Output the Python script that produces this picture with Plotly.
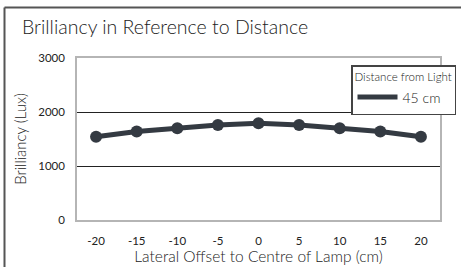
import plotly.graph_objects as go

offsets = [-20, -15, -10, -5, 0, 5, 10, 15, 20]
brilliancy_45cm = [1540, 1640, 1700, 1760, 1790, 1760, 1700, 1640, 1540]
y_ticks = [0, 1000, 2000, 3000]
series_name = "45 cm"

FONT = "Lato"
DARK = "#343a42"
TXT = "#222"

fig = go.Figure()
fig.add_trace(go.Scatter(
    x=offsets, y=brilliancy_45cm, name=series_name, mode="lines",
    line=dict(color=DARK, width=5),
))
fig.add_trace(go.Scatter(
    x=offsets, y=brilliancy_45cm, name=series_name, mode="markers",
    marker=dict(color=DARK, size=12), showlegend=False,
))

fig.update_layout(
    width=461, height=267,
    margin=dict(l=77, r=21, t=58, b=47, autoexpand=False),
    paper_bgcolor="white", plot_bgcolor="white",
    font=dict(family=FONT, color=TXT),
    title=dict(text="Brilliancy in Reference to Distance", x=22/461, xanchor="left",
               y=1 - 27/267, yanchor="middle",
               font=dict(family=FONT, size=19.5, color=TXT, weight=300)),
    showlegend=True,
    legend=dict(
        title=dict(text="Distance from Light", font=dict(size=11.5, color=TXT, weight=300)),
        font=dict(size=14, color=TXT, weight=300),
        x=(456-77)/363, xanchor="right", y=(220-65)/162, yanchor="top",
        bgcolor="white", bordercolor="#444", borderwidth=1.5,
        itemwidth=40, tracegroupgap=0,
    ),
    xaxis=dict(
        range=[-22.35, 22.35], tickvals=offsets, ticktext=[str(v) for v in offsets],
        showgrid=False, zeroline=False, showline=True, linecolor="#b5b5b5", linewidth=1.5,
        mirror=True, ticks="", tickfont=dict(size=11.5, color=TXT), ticklabelstandoff=9,
        title=dict(text="Lateral Offset to Centre of Lamp (cm)", font=dict(size=15.5, color=TXT, weight=300), standoff=4),
    ),
    yaxis=dict(
        range=[0, 3000], tickvals=y_ticks, ticktext=[str(v) for v in y_ticks],
        showgrid=True, gridcolor="#222", gridwidth=1, zeroline=False,
        showline=True, linecolor="#b5b5b5", linewidth=1.5, mirror=True,
        ticks="", tickfont=dict(size=11.5, color=TXT), ticklabelstandoff=8,
        title=dict(text="Brilliancy (Lux)", font=dict(size=15, color=TXT, weight=300), standoff=8),
    ),
    shapes=[
        dict(type="line", xref="paper", yref="paper", x0=(4.5-77)/363, x1=(462-77)/363,
             y0=(220-7.5)/162, y1=(220-7.5)/162, line=dict(color="#555", width=2)),
        dict(type="line", xref="paper", yref="paper", x0=(4.5-77)/363, x1=(4.5-77)/363,
             y0=(220-7.5)/162, y1=(220-270)/162, line=dict(color="#555", width=2)),
    ],
)

fig.write_html("out.html", config={"displayModeBar": False},
               post_script="document.body.style.margin='0';")
